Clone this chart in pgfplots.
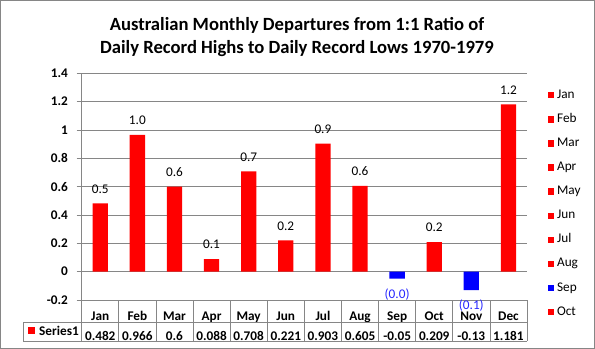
\documentclass[border=0pt]{standalone}
\usepackage{fontspec}
\setmainfont{Carlito}
\usepackage{pgfplots}
\pgfplotsset{compat=1.18}
\definecolor{gridgray}{RGB}{134,134,134}
\definecolor{barred}{RGB}{255,0,0}
\definecolor{barblue}{RGB}{0,0,255}
\definecolor{labblue}{RGB}{40,40,255}
\newcommand\tfont{\fontsize{13.3}{16}\selectfont}
\newcommand\titlefont{\fontsize{18.7}{23}\selectfont\bfseries}
\pgfplotsset{legend image code/.code={\fill[#1, draw=none] (0bp,-3.2bp) rectangle (6.2bp,3.2bp);}}
\begin{document}
\begin{tikzpicture}
\begin{axis}[
  at={(0,0)}, anchor=south west,
  scale only axis, width=445.3bp, height=226.7bp,
  xmin=-0.5, xmax=11.5, ymin=-0.2, ymax=1.4,
  axis lines*=left,
  axis line style={gridgray, line width=0.75bp},
  ymajorgrids, grid style={gridgray, line width=0.75bp},
  ytick={-0.2,0,0.2,0.4,0.6,0.8,1,1.2,1.4},
  yticklabels={-0.2,0,0.2,0.4,0.6,0.8,1,1.2,1.4},
  tick align=outside, major tick length=5bp,
  ytick style={gridgray, line width=0.75bp},
  yticklabel style={font=\tfont\bfseries, anchor=east, inner sep=0pt, xshift=-8.7bp},
  xtick={0,1,2,3,4,5,6,7,8,9,10,11},
  xticklabels={Jan,Feb,Mar,Apr,May,Jun,Jul,Aug,Sep,Oct,Nov,Dec},
  xtick style={draw=none},
  xticklabel style={font=\tfont\bfseries, anchor=base, inner sep=0pt, yshift=-15bp},
  extra x ticks={0,1,2,3,4,5,6,7,8,9,10,11},
  extra x tick labels={0.482,0.966,0.6,0.088,0.708,0.221,0.903,0.605,-0.05,0.209,-0.13,1.181},
  extra x tick style={tick style={draw=none}, xticklabel style={yshift=-20.7bp}},
  legend style={at={(1.0465,0.9307)}, anchor=north west, draw=none, fill=none,
    inner sep=0pt, row sep=12.1bp, column sep=3bp, font=\tfont,
    nodes={inner sep=0pt, text height=9bp, text depth=3bp}},
  legend cell align=left,
  clip=false,
]
\addplot[ybar, bar width=15.3bp, bar shift=0pt, fill=barred, draw=none, forget plot,
  nodes near coords, point meta=explicit symbolic,
  every node near coord/.append style={font=\tfont, text=black, anchor=south, inner sep=0pt, yshift=10bp}]
  coordinates {(0,0.482)[0.5] (1,0.966)[1.0] (2,0.6)[0.6] (3,0.088)[0.1] (4,0.708)[0.7]
               (5,0.221)[0.2] (6,0.903)[0.9] (7,0.605)[0.6] (9,0.209)[0.2] (11,1.181)[1.2]};
\addplot[ybar, bar width=15.3bp, bar shift=0pt, fill=barblue, draw=none, forget plot,
  nodes near coords, point meta=explicit symbolic,
  every node near coord/.append style={font=\tfont, text=labblue, anchor=north, inner sep=0pt, yshift=-10bp}]
  coordinates {(8,-0.05)[(0.0)] (10,-0.13)[(0.1)]};
\addlegendimage{fill=barred}\addlegendentry{Jan}
\addlegendimage{fill=barred}\addlegendentry{Feb}
\addlegendimage{fill=barred}\addlegendentry{Mar}
\addlegendimage{fill=barred}\addlegendentry{Apr}
\addlegendimage{fill=barred}\addlegendentry{May}
\addlegendimage{fill=barred}\addlegendentry{Jun}
\addlegendimage{fill=barred}\addlegendentry{Jul}
\addlegendimage{fill=barred}\addlegendentry{Aug}
\addlegendimage{fill=barblue}\addlegendentry{Sep}
\addlegendimage{fill=barred}\addlegendentry{Oct}
\end{axis}
% data table grid
\begin{scope}[gridgray, line width=0.75bp]
\foreach \k in {0,...,12} {\draw (\k*37.108bp,0bp) -- (\k*37.108bp,-41bp);}
\draw (-58.4bp,-22.3bp) -- (445.3bp,-22.3bp);
\draw (-58.4bp,-41bp) -- (445.3bp,-41bp);
\draw (-58.4bp,-22.3bp) -- (-58.4bp,-41bp);
\end{scope}
\fill[barred] (-53.4bp,-34.2bp) rectangle (-46.8bp,-27.4bp);
\node[anchor=base west, inner sep=0pt, font=\tfont\bfseries] at (-42.7bp,-35.7bp) {Series1};
% title
\node[anchor=base, inner sep=0pt, font=\titlefont] at (215.3bp,269bp) {Australian Monthly Departures from 1:1 Ratio of};
\node[anchor=base, inner sep=0pt, font=\titlefont] at (215.3bp,246bp) {Daily Record Highs to Daily Record Lows 1970-1979};
% chart border
\draw[gridgray, line width=1bp] (-81.2bp,-48.5bp) rectangle (512.8bp,299.5bp);
\pgfresetboundingbox
\useasboundingbox (-81.7bp,-49bp) rectangle (513.3bp,300bp);
\end{tikzpicture}
\end{document}
